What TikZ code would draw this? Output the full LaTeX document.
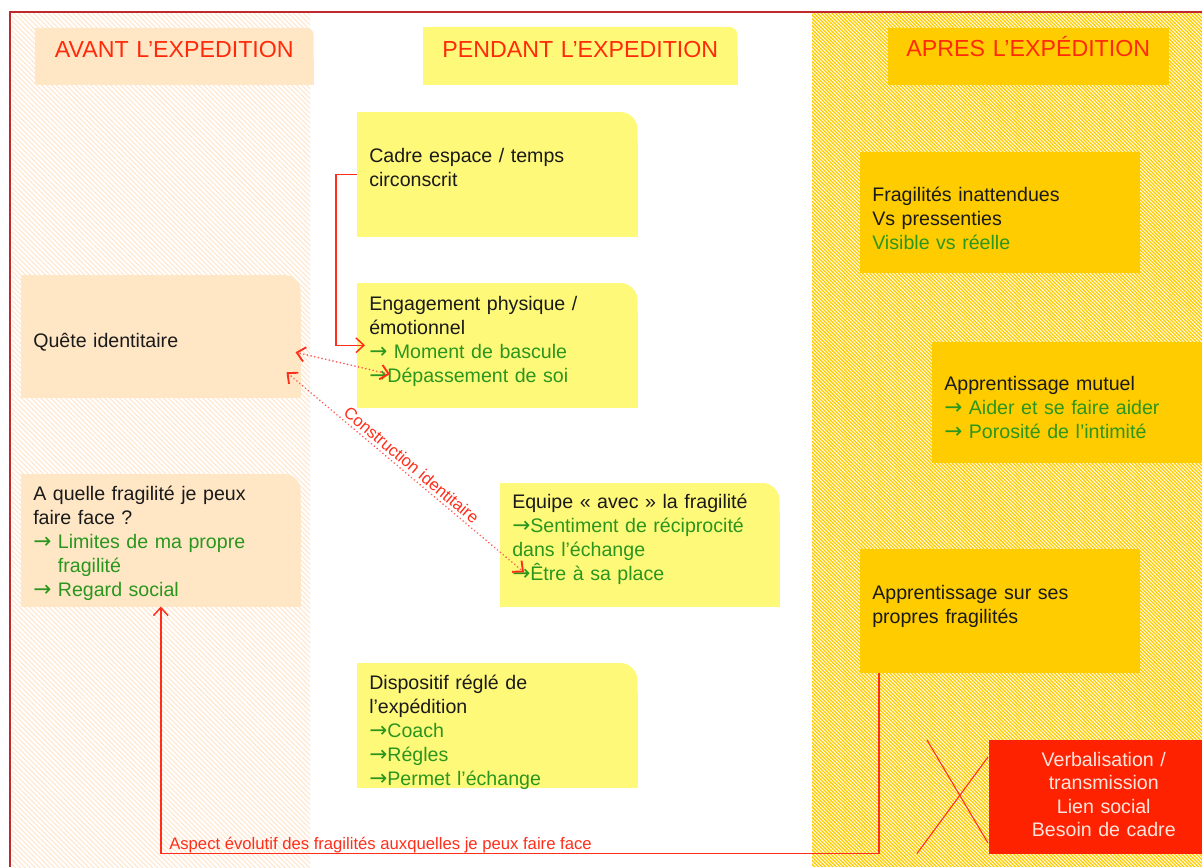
\documentclass[tikz,border=0pt]{standalone}
\usepackage{fontspec}
\setmainfont{Liberation Sans}
\newfontfamily\arrfont{DejaVu Sans}
\usetikzlibrary{arrows.meta,patterns.meta,calc}
\definecolor{peach}{HTML}{FFE7C6}
\definecolor{peachline}{HTML}{FFE6CC}
\definecolor{yel}{HTML}{FFF97A}
\definecolor{gold}{HTML}{FFCC00}
\definecolor{redbox}{HTML}{FF2200}
\definecolor{hred}{HTML}{FF2A0A}
\definecolor{ared}{HTML}{FF2E1A}
\definecolor{dred}{HTML}{FF5A55}
\definecolor{framered}{HTML}{C0282D}
\definecolor{grn}{HTML}{2A961E}
\definecolor{txt}{HTML}{1A1A1A}
\definecolor{vtxt}{HTML}{FFE4DC}
\pgfdeclarelayer{hatch}
\pgfdeclarelayer{boxes}
\pgfsetlayers{hatch,boxes,main}
\newcommand\G[1]{\textcolor{grn}{#1}}
\newcommand\ar{{\arrfont\fontsize{16.2pt}{18pt}\selectfont →}}
% name, x1, y1, x2, y2, first baseline, options, text
\newcommand\bx[8]{%
  \pgfmathsetlengthmacro\bxw{(#4-#2-24)*0.75pt}%
  \pgfmathsetlengthmacro\bxh{(#6-#3)*0.75pt}%
  \pgfmathsetlengthmacro\bxd{(#5-#6)*0.75pt}%
  \node[boxbase,#7,text width=\bxw,text height=\bxh,text depth=\bxd] (#1) at (#2,#3) {#8};}
\newcommand\rfill[3]{%
  \begin{pgfonlayer}{boxes}
  \fill[#2,rounded corners=#3] (#1.south west) rectangle (#1.north east);
  \fill[#2] (#1.south west) rectangle ($(#1.north east)+(-30,0)$);
  \fill[#2] (#1.south west) rectangle ($(#1.north east)+(0,30)$);
  \end{pgfonlayer}}
\newcommand\sfill[2]{%
  \begin{pgfonlayer}{boxes}
  \fill[#2] (#1.south west) rectangle (#1.north east);
  \end{pgfonlayer}}
\begin{document}
\begin{tikzpicture}[x=0.75pt,y=-0.75pt,
  boxbase/.style={anchor=north west,inner xsep=9pt,inner ysep=0pt,align=left,text=txt,
    font=\fontsize{14.7pt}{18pt}\selectfont},
  hdr/.style={align=center,text=hred,font=\fontsize{17.4pt}{20pt}\selectfont},
  vbox/.style={align=center,text=vtxt,font=\fontsize{14.7pt}{17.6pt}\selectfont},
  link/.style={draw=ared,line width=1.1pt,-{Straight Barb[length=6pt,width=11pt]}},
  dotlink/.style={draw=dred,line width=1.4pt,dash pattern=on 0.01pt off 2.8pt,line cap=round,
    {Straight Barb[length=6pt,width=11pt,color=ared]}-{Straight Barb[length=6pt,width=11pt,color=ared]}},
  lbl/.style={text=ared,font=\fontsize{12.5pt}{14pt}\selectfont},
  xline/.style={draw=ared,line width=0.8pt}]
\useasboundingbox (0,0) rectangle (1202,867);
\begin{pgfonlayer}{hatch}
  \fill[white] (0,0) rectangle (1202,867);
  \fill[pattern={Lines[angle=-45,distance=2.6pt,line width=0.8pt]},pattern color=peachline] (12,13) rectangle (310,867);
  \fill[gold] (812,13) rectangle (1202,867);
  \fill[pattern={Lines[angle=-45,distance=1.9pt,line width=0.7pt]},pattern color=white] (812,13) rectangle (1202,867);
  \draw[framered,line width=1.6pt] (10,867) -- (10,12) -- (1202,12);
\end{pgfonlayer}

% headers
\bx{havant}{35}{28}{313}{84}{57}{hdr}{AVANT L’EXPEDITION}
\rfill{havant}{peach}{5pt}
\bx{hpendant}{423}{27}{737}{84}{57}{hdr}{PENDANT L’EXPEDITION}
\rfill{hpendant}{yel}{6pt}
\bx{hapres}{888}{28}{1168}{84}{56}{hdr}{APRES L’EXPÉDITION}
\sfill{hapres}{gold}

% left column
\bx{quete}{21}{275}{300}{397}{347}{}{Quête identitaire}
\rfill{quete}{peach}{12pt}
\bx{aquelle}{21}{474}{300}{606}{500}{}{A quelle fragilité je peux\\faire face ?\\\G{\ar\ Limites de ma propre}\\\G{\phantom{\ar\ }fragilité}\\\G{\ar\ Regard social}}
\rfill{aquelle}{peach}{12pt}

% middle column
\bx{cadre}{357}{112}{637}{236}{162}{}{Cadre espace / temps\\circonscrit}
\rfill{cadre}{yel}{13pt}
\bx{eng}{357}{283}{637}{407}{310}{}{Engagement physique /\\émotionnel\\\G{\ar\ Moment de bascule}\\\G{\ar Dépassement de soi}}
\rfill{eng}{yel}{13pt}
\bx{equ}{500}{483}{779}{606}{508}{}{Equipe « avec » la fragilité\\\G{\ar Sentiment de réciprocité}\\\G{dans l’échange}\\\G{\ar Être à sa place}}
\rfill{equ}{yel}{13pt}
\bx{disp}{357}{663}{637}{787}{689}{}{Dispositif réglé de\\l’expédition\\\G{\ar Coach}\\\G{\ar Régles}\\\G{\ar Permet l’échange}}
\rfill{disp}{yel}{13pt}

% right column
\bx{frag}{860}{152}{1139}{272}{201}{}{Fragilités inattendues\\Vs pressenties\\\G{Visible vs réelle}}
\sfill{frag}{gold}
\bx{mutuel}{932}{342}{1212}{462}{390}{}{Apprentissage mutuel\\\G{\ar\ Aider et se faire aider}\\\G{\ar\ Porosité de l’intimité}}
\sfill{mutuel}{gold}
\bx{appr}{860}{549}{1139}{672}{599}{}{Apprentissage sur ses\\propres fragilités}
\sfill{appr}{gold}
\bx{verb}{989}{740}{1218}{853}{766}{vbox}{Verbalisation /\\transmission\\Lien social\\Besoin de cadre}
\sfill{verb}{redbox}

% connectors
\coordinate (mbtip) at ($(eng.west)+(8,0)$);
\draw[link] (cadre.west) -- ++(-21,0) |- (mbtip);

\coordinate (qa) at ($(quete.east)+(-5,16)$);
\coordinate (qb) at ($(quete.east)+(-14,36)$);
\coordinate (dep) at ($(eng.west)+(33,29)$);
\coordinate (etre) at ($(equ.west)+(24,27.5)$);
\draw[dotlink] (dep) -- (qa);
\draw[dotlink] (qb) -- node[lbl,sloped,above,inner sep=2pt] (cilabel) {Construction identitaire} (etre);

\coordinate (apprfoot) at ($(appr.south west)+(19,0)$);
\draw[link] (apprfoot) -- ++(0,181) -| (aquelle.south);
\node[lbl,anchor=base west,inner sep=0pt] (aspect) at (169,849) {Aspect évolutif des fragilités auxquelles je peux faire face};

\coordinate (x1a) at ($(verb.north west)+(-62,0)$);
\coordinate (x1b) at ($(verb.north west)+(-1,103)$);
\coordinate (x2a) at ($(verb.south west)+(-72,0)$);
\coordinate (x2b) at ($(verb.north west)+(-1,17)$);
\draw[xline] (x1a) -- (x1b);
\draw[xline] (x2a) -- (x2b);
\end{tikzpicture}
\end{document}
